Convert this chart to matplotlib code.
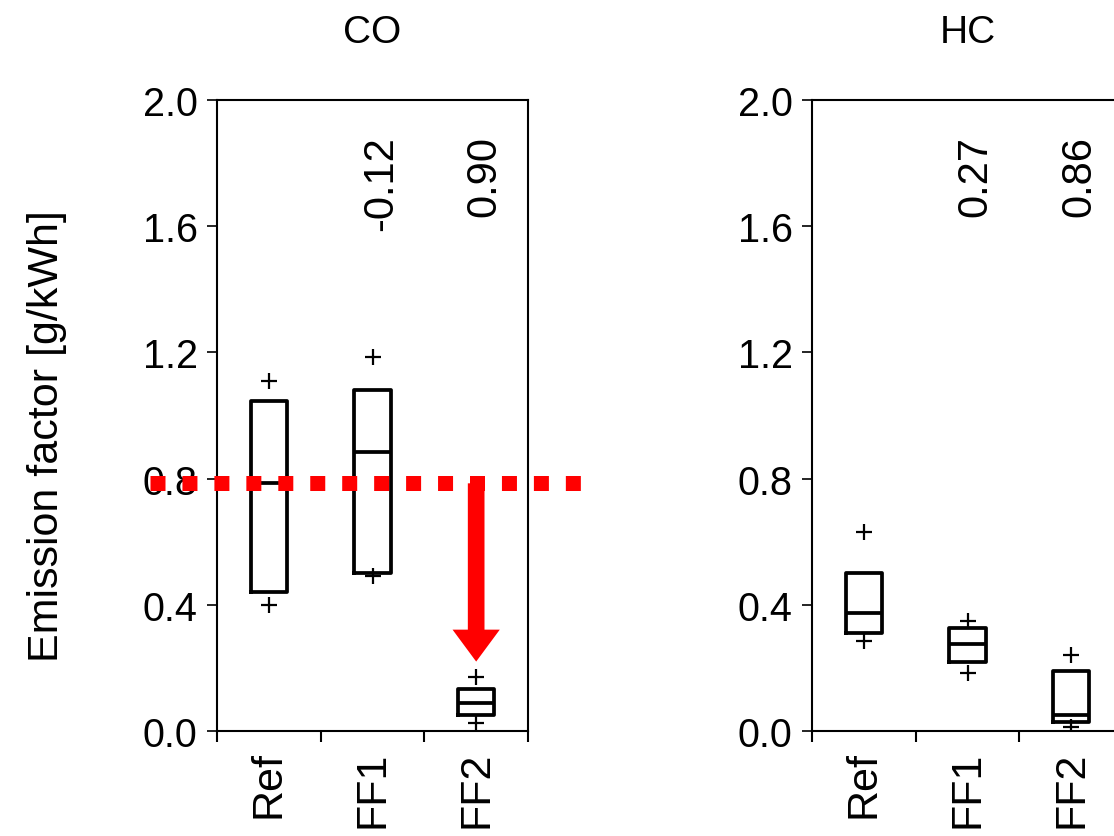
import numpy as np
import matplotlib
matplotlib.use("Agg")
from matplotlib import pyplot as plt
from matplotlib.patches import FancyArrowPatch, ArrowStyle

plt.rcParams['font.family'] = ['Liberation Sans', 'DejaVu Sans']

fuels = ['Ref', 'FF1', 'FF2']

# CO emission factor boxes [g/kWh]
co_q1 = [0.44, 0.50, 0.05]
co_med = [0.785, 0.885, 0.09]
co_q3 = [1.046, 1.08, 0.133]
co_min = [0.40, 0.49, 0.025]
co_max = [1.11, 1.185, 0.17]
co_change = ['', '-0.12', '0.90']

# HC emission factor boxes [g/kWh]
hc_q1 = [0.31, 0.22, 0.03]
hc_med = [0.375, 0.275, 0.05]
hc_q3 = [0.50, 0.325, 0.19]
hc_min = [0.285, 0.185, 0.013]
hc_max = [0.63, 0.35, 0.24]
hc_change = ['', '0.27', '0.86']

ref_level = 0.785  # red dashed reference line
arrow_tip = 0.22

W, H = 1114, 837
fig = plt.figure(figsize=(W / 100, H / 100), dpi=100)


def panel(left, title, q1, med, q3, lo, hi, change):
    ax = fig.add_axes([left / W, (H - 732) / H, 311 / W, 631 / H])
    stats = []
    for i in range(3):
        stats.append(dict(med=med[i], q1=q1[i], q3=q3[i], whislo=q1[i],
                          whishi=q3[i], fliers=[lo[i], hi[i]]))
    pos = np.arange(3) + 0.5
    ax.bxp(stats, positions=pos, widths=0.35, showcaps=False,
           boxprops=dict(color='black', linewidth=2.7),
           medianprops=dict(color='black', linewidth=2.7),
           whiskerprops=dict(linewidth=0),
           flierprops=dict(marker='+', markersize=11, markeredgewidth=1.6,
                           markeredgecolor='black'))
    ax.set_xlim(0, 3)
    ax.set_ylim(0, 2.0)
    ax.set_yticks(np.arange(0, 2.01, 0.4))
    ax.set_yticklabels(['%.1f' % v for v in np.arange(0, 2.01, 0.4)], fontsize=28.5)
    ax.set_xticks([0, 1, 2, 3])
    ax.set_xticklabels([])
    ax.set_xticks(pos, minor=True)
    ax.set_xticklabels(fuels, minor=True, rotation=90, fontsize=31)
    ax.tick_params(axis='x', which='minor', length=0, pad=14)
    ax.tick_params(axis='x', which='major', length=8, width=1.5, direction='out')
    ax.tick_params(axis='y', which='major', length=7, width=1.2,
                   direction='out', pad=7)
    for s in ax.spines.values():
        s.set_linewidth(1.5)
    for i in range(3):
        if change[i]:
            ax.text(pos[i] + 0.08, 1.89, change[i], rotation=90, ha='center',
                    va='top', fontsize=30)
    ax.set_title(title, fontsize=28, pad=42)
    return ax


ax1 = panel(217, 'CO', co_q1, co_med, co_q3, co_min, co_max, co_change)
ax2 = panel(812, 'HC', hc_q1, hc_med, hc_q3, hc_min, hc_max, hc_change)
fig.text(47 / W, 1 - 436 / H, 'Emission factor [g/kWh]', rotation=90,
         ha='center', va='center', fontsize=31)

line, = ax1.plot([-0.646, 3.55], [ref_level, ref_level], color='#ff0000',
                 linewidth=10.8, clip_on=False, solid_capstyle='butt',
                 dash_capstyle='butt', zorder=5)
line.set_dashes((1.0, 1.13))

arr = FancyArrowPatch((2.5, ref_level), (2.5, arrow_tip),
                      arrowstyle=ArrowStyle.Simple(head_length=23, head_width=34,
                                                   tail_width=12),
                      mutation_scale=1, color='#ff0000', shrinkA=0, shrinkB=0,
                      linewidth=0, zorder=5)
ax1.add_patch(arr)

fig.savefig('out.png', dpi=100)
